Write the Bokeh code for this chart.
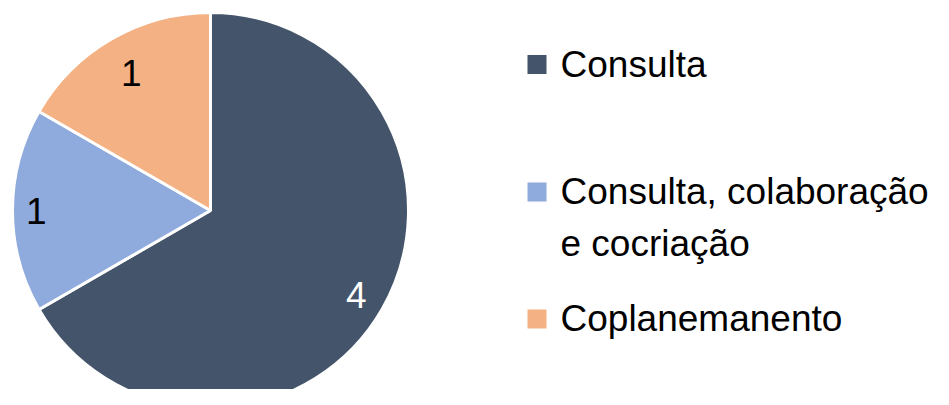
import math
from bokeh.plotting import figure
from bokeh.models import Range1d, ColumnDataSource
from bokeh.core.properties import value
from bokeh.embed import file_html
from bokeh.resources import INLINE

# ---- data ----
categories = ["Consulta", "Consulta, colaboração e cocriação", "Coplanemanento"]
values = [4, 1, 1]
legend_lines = ["Consulta", "Consulta, colaboração\ne cocriação", "Coplanemanento"]

# ---- styles / layout ----
colors = ["#44546A", "#8FAADC", "#F4B183"]
label_colors = ["white", "black", "black"]
label_radius_frac = [0.85, 0.88, 0.80]
FONT = "Liberation Sans"

W, H = 933, 389
# data coordinates: x = screen x, y = 405 - screen y
p = figure(width=W, height=H, x_range=Range1d(0, W), y_range=Range1d(405 - H, 405),
           output_backend="svg", toolbar_location=None, min_border=0)
p.axis.visible = False
p.grid.visible = False
p.outline_line_color = None
p.background_fill_color = "white"
p.border_fill_color = "white"

cx, cy, R = 210, 405 - 210, 198
total = sum(values)
starts, ends, lx, ly = [], [], [], []
cum = 0
for i, v in enumerate(values):
    a0 = math.pi / 2 - 2 * math.pi * cum / total
    cum += v
    a1 = math.pi / 2 - 2 * math.pi * cum / total
    starts.append(a0)
    ends.append(a1)
    mid = (a0 + a1) / 2
    r = R * label_radius_frac[i]
    lx.append(cx + r * math.cos(mid))
    ly.append(cy + r * math.sin(mid))

src = ColumnDataSource(dict(start=starts, end=ends, color=colors, cat=categories,
                            lx=lx, ly=ly, lab=[str(v) for v in values], lc=label_colors))
p.wedge(x=cx, y=cy, radius=R, start_angle="start", end_angle="end", direction="clock",
        fill_color="color", line_color="white", line_width=3, source=src)
p.text(x="lx", y="ly", text="lab", text_color="lc", source=src,
       text_font=value(FONT), text_font_size="37px", text_align="center", text_baseline="middle")

# legend
sq_x = 536.5
sq_y = [64, 191.5, 318.5]          # screen y of square centres
txt_mid = [63.5, 191, 317.5]       # screen y of first text line middle
line_gap = 52
sx, sy, sc, tx, ty, tt = [], [], [], [], [], []
for i, lab in enumerate(legend_lines):
    sx.append(sq_x)
    sy.append(405 - sq_y[i])
    sc.append(colors[i])
    for j, part in enumerate(lab.split("\n")):
        tx.append(560)
        ty.append(405 - (txt_mid[i] + j * line_gap))
        tt.append(part)
p.rect(x=sx, y=sy, width=19, height=19, fill_color=sc, line_color=None)
p.text(x=tx, y=ty, text=tt, text_font=value(FONT), text_font_size="37px",
       text_color="black", text_align="left", text_baseline="middle")

open("out.html", "w").write(file_html(p, INLINE))
